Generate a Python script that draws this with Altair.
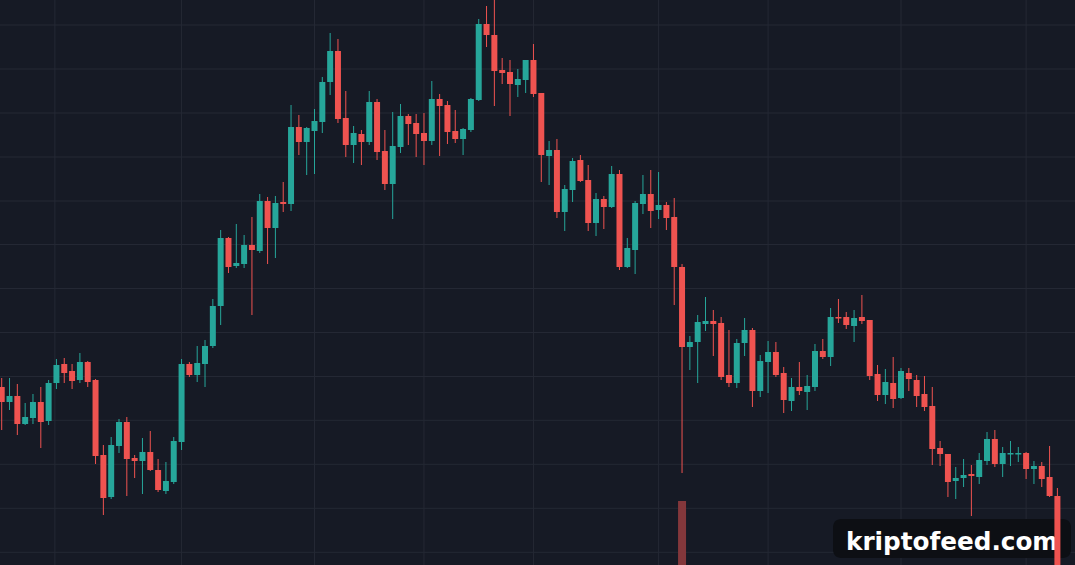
import altair as alt
import pandas as pd

# OHLC values (arbitrary price units), one entry per candle, left to right
opens = [213, 198, 204, 176, 182, 198, 179, 217, 236, 229, 220, 238, 220, 145, 103, 154, 178, 142, 139, 148,
         130, 109, 118, 158, 236, 225, 236, 254, 294, 362, 334, 336, 355, 349, 399, 372, 398, 396, 473, 458,
         469, 478, 518, 549, 482, 455, 466, 458, 498, 449, 416, 453, 484, 477, 467, 459, 501, 495, 469, 461,
         470, 500, 576, 565, 530, 528, 515, 520, 540, 507, 444, 450, 388, 410, 440, 420, 377, 401, 393, 426,
         333, 350, 396, 406, 390, 395, 383, 333, 253, 258, 276, 279, 277, 225, 217, 257, 270, 209, 238, 248,
         227, 199, 213, 208, 213, 249, 243, 283, 283, 274, 283, 280, 226, 205, 217, 202, 227, 220, 206, 194,
         152, 146, 119, 122, 126, 123, 139, 161, 136, 145.5, 145.5, 147, 131, 134, 123, 104]
highs = [222, 222, 216, 197, 206, 213, 220, 241, 242, 236, 247, 239, 221, 155, 163, 181, 183, 145, 162, 169,
         141, 138, 163, 241, 238, 254, 260, 301, 370, 363, 376, 365, 383, 406, 403, 404, 418, 495, 485, 473,
         491, 523, 567, 561, 509, 474, 470, 509, 501, 470, 488, 496, 486, 486, 487, 519, 506, 499, 490, 472,
         502, 581, 594, 602, 542, 540, 531, 540, 556, 507, 459, 461, 415, 442, 445, 435, 407, 404, 434, 430,
         362, 399, 425, 430, 428, 398, 402, 336, 264, 285, 303, 290, 283, 270, 261, 282, 272, 245, 259, 258,
         233, 222, 238, 225, 256, 261, 292, 301, 288, 290, 305, 280, 235, 231, 243, 232, 232, 225, 224, 213,
         159, 146, 133, 141, 135, 147, 168, 170, 153, 159, 153, 148, 139, 138, 154, 112]
lows = [170, 190, 165, 175, 176, 152, 175, 211, 217, 211, 217, 213, 136, 85, 101, 147, 104, 122, 106, 129,
        108, 106, 116, 150, 223, 218, 213, 252, 275, 327, 332, 332, 285, 347, 336, 342, 388, 389, 445, 425,
        426, 467, 505, 477, 443, 437, 435, 455, 440, 410, 381, 447, 455, 443, 435, 455, 444, 456, 457, 445,
        468, 499, 553, 494, 516, 484, 503, 507, 503, 418, 415, 382, 369, 398, 418, 369, 364, 371, 392, 330,
        332, 326, 386, 372, 381, 370, 295, 127, 230, 217, 269, 244, 220, 213, 212, 244, 193, 203, 207, 223,
        187, 189, 205, 190, 209, 241, 234, 277, 271, 258, 276, 220, 199, 196, 192, 201, 209, 193, 189, 135,
        134, 103, 101, 113, 84, 116, 135, 133, 123, 134, 138, 121, 116, 113, 103, 10]
closes = [198, 204, 176, 183, 198, 178, 217, 235, 227, 219, 238, 218, 144, 102, 155, 178, 141, 139, 148, 130,
          110, 119, 159, 236, 225, 237, 254, 294, 362, 333, 337, 355, 350, 399, 372, 397, 396, 473, 458, 472,
          479, 518, 549, 481, 455, 467, 458, 498, 448, 416, 454, 484, 476, 466, 459, 501, 494, 468, 461, 471,
          501, 576, 565, 529, 527, 516, 521, 540, 506, 445, 450, 388, 411, 439, 419, 377, 401, 393, 426, 333,
          352, 397, 406, 389, 395, 382, 333, 253, 258, 278, 279, 276, 223, 217, 257, 270, 209, 239, 248, 225,
          200, 213, 209, 214, 249, 243, 283, 281.5, 275, 282, 279, 224, 205, 218, 201, 229, 221, 204, 193, 151,
          146, 118, 122, 125, 124, 140, 161, 136, 147, 147, 147, 131, 134, 121, 104, 20]

# a single visible volume spike (at candle 87) rising from the bottom edge
volume_idx = [87]
volume_top = [99]

# candle indices where vertical grid lines fall, and price levels of horizontal grid lines
vgrid = [6.8, 23, 40, 54, 68, 84, 98, 115, 131]
hgrid = [575, 531, 487, 443, 399, 355.5, 311.5, 267.5, 223.5, 179.7, 135.7, 91.7, 47.7]

UP = "#26a69a"
DOWN = "#ef5350"
BG = "#161a25"
GRID = "#242834"

df = pd.DataFrame({"i": list(range(len(opens))), "open": opens, "high": highs, "low": lows, "close": closes})
df["dir"] = ["up" if c >= o else "down" for o, c in zip(opens, closes)]

X_DOM = [-0.2174, 137.25]
Y_DOM = [35, 600]
xs = alt.Scale(domain=X_DOM, nice=False, zero=False, padding=0)
ys = alt.Scale(domain=Y_DOM, nice=False, zero=False, padding=0)
col = alt.Color("dir:N", scale=alt.Scale(domain=["up", "down"], range=[UP, DOWN]), legend=None)

vg = alt.Chart(pd.DataFrame({"g": vgrid})).mark_rule(color=GRID, strokeWidth=1).encode(
    x=alt.X("g:Q", scale=xs, axis=None))
hg = alt.Chart(pd.DataFrame({"h": hgrid})).mark_rule(color=GRID, strokeWidth=1).encode(
    y=alt.Y("h:Q", scale=ys, axis=None))

vol = alt.Chart(pd.DataFrame({"i": volume_idx, "v": volume_top})).mark_bar(
    width=8, color="#83373b", clip=True).encode(
    x=alt.X("i:Q", scale=xs, axis=None),
    y=alt.Y("v:Q", scale=ys, axis=None),
    y2=alt.value(565))

box = alt.Chart(pd.DataFrame({"a": [0]})).mark_rect(color="#0d0f14", cornerRadius=8).encode(
    x=alt.value(833), x2=alt.value(1071), y=alt.value(519), y2=alt.value(558))
wm = alt.Chart(pd.DataFrame({"a": [0]})).mark_text(
    text="kriptofeed.com", font="DejaVu Sans", fontWeight="bold", fontSize=24.7,
    color="#ffffff", align="left", baseline="alphabetic").encode(
    x=alt.value(846), y=alt.value(550))

wick = alt.Chart(df).mark_rule(strokeWidth=1, clip=True).encode(
    x=alt.X("i:Q", scale=xs, axis=None),
    y=alt.Y("low:Q", scale=ys, axis=None),
    y2="high:Q",
    color=col)
body = alt.Chart(df).mark_bar(width=6, clip=True).encode(
    x=alt.X("i:Q", scale=xs, axis=None),
    y=alt.Y("open:Q", scale=ys, axis=None),
    y2="close:Q",
    color=col)

chart = alt.layer(vg, hg, vol, box, wm, wick, body).properties(
    width=1075, height=565, background=BG, padding=0,
    autosize=alt.AutoSizeParams(type="none")
).configure_view(stroke=None, fill=BG)

chart.save("out.html", embed_options={"renderer": "svg", "actions": False})
